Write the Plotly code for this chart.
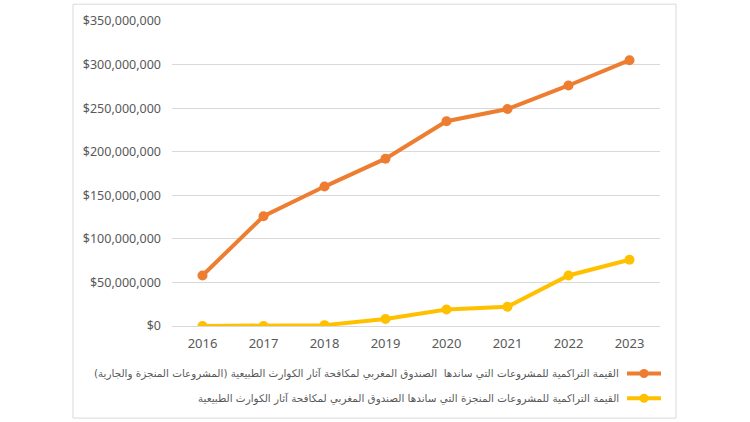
import plotly.graph_objects as go

years = ["2016", "2017", "2018", "2019", "2020", "2021", "2022", "2023"]
total_values = [58e6, 126e6, 160e6, 192e6, 235e6, 249e6, 276e6, 305e6]
completed_values = [0, 0, 1e6, 8e6, 19e6, 22e6, 58e6, 76e6]
series_names = [
    "القيمة التراكمية للمشروعات التي ساندها  الصندوق المغربي لمكافحة آثار الكوارث الطبيعية (المشروعات المنجزة والجارية)",
    "القيمة التراكمية للمشروعات المنجزة التي ساندها الصندوق المغربي لمكافحة آثار الكوارث الطبيعية",
]
y_ticks = [0, 50e6, 100e6, 150e6, 200e6, 250e6, 300e6, 350e6]
colors = ["#ED7D31", "#FFC000"]

W, H = 750, 422
L, R, T, B = 172, 660, 18, 326
pw, ph = R - L, B - T


def px_x(x):
    return (x - L) / pw


def px_y(y):
    return (B - y) / ph


fig = go.Figure()
for vals, name, col in zip([total_values, completed_values], series_names, colors):
    fig.add_trace(go.Scatter(
        x=years, y=vals, name=name, mode="lines+markers",
        line=dict(color=col, width=4),
        marker=dict(color=col, size=10),
        showlegend=False,
    ))

shapes = [
    dict(type="rect", xref="paper", yref="paper",
         x0=px_x(73), x1=px_x(676), y0=px_y(419), y1=px_y(1),
         line=dict(color="#D9D9D9", width=1), fillcolor="rgba(0,0,0,0)", layer="below"),
]
annotations = []
legend_rows = [374, 399]
for name, col, ry in zip(series_names, colors, legend_rows):
    shapes.append(dict(type="line", xref="paper", yref="paper",
                       x0=px_x(627), x1=px_x(661), y0=px_y(ry), y1=px_y(ry),
                       line=dict(color=col, width=4)))
    shapes.append(dict(type="circle", xref="paper", yref="paper",
                       xsizemode="pixel", ysizemode="pixel",
                       xanchor=px_x(644), yanchor=px_y(ry),
                       x0=-4.5, x1=4.5, y0=-4.5, y1=4.5,
                       fillcolor=col, line=dict(color=col, width=0)))
    annotations.append(dict(xref="paper", yref="paper", x=px_x(621), y=px_y(ry),
                            xanchor="right", yanchor="middle", showarrow=False,
                            text=name,
                            font=dict(family="DejaVu Sans", size=10.4, color="#595959")))

fig.update_layout(
    width=W, height=H,
    margin=dict(l=L, r=W - R, t=T, b=H - B),
    paper_bgcolor="white", plot_bgcolor="white",
    font=dict(family="Noto Sans", size=12.5, color="#595959"),
    shapes=shapes, annotations=annotations,
    xaxis=dict(type="category", range=[-0.5, 7.5], showgrid=False, showline=False,
               zeroline=False, ticks="", ticklabelstandoff=8,
               tickfont=dict(size=13, color="#595959")),
    yaxis=dict(range=[0, 350e6], tickvals=y_ticks, tickformat="$,.0f",
               showgrid=True, gridcolor="#D9D9D9", gridwidth=1,
               zeroline=True, zerolinecolor="#D9D9D9", zerolinewidth=1,
               showline=False, ticks="", ticklabelstandoff=10,
               tickfont=dict(size=12.5, color="#595959")),
    showlegend=False,
)

fig.write_html("out.html",
               config={"displayModeBar": False},
               post_script="document.body.style.margin='0';document.body.style.overflow='hidden';")
